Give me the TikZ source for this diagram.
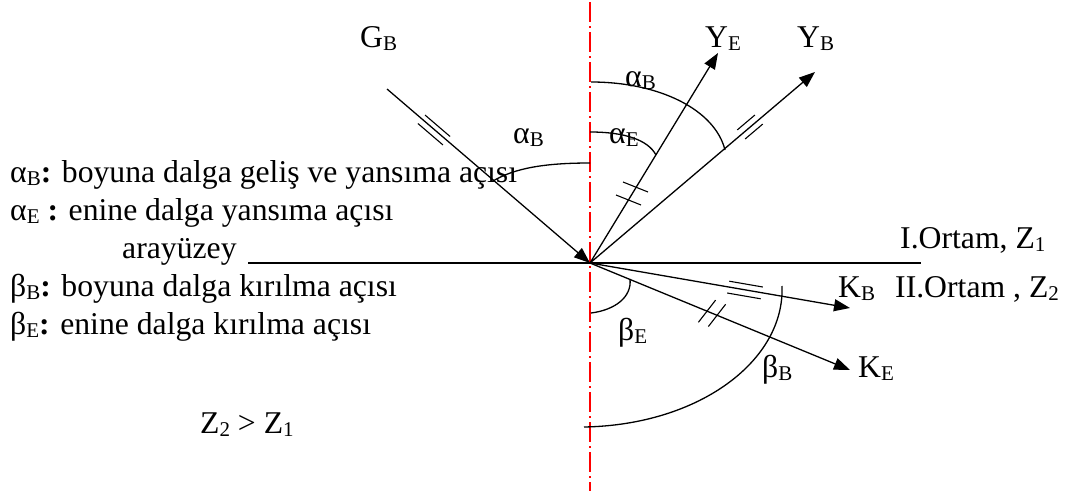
\documentclass[tikz,border=0pt]{standalone}
\usepackage{fontspec}
\setmainfont{Liberation Serif}
\usetikzlibrary{arrows.meta}
\newcommand\lowidx[1]{\raisebox{-0.12em}{\fontsize{21}{21}\selectfont #1}}
\newcommand\bcolon{\textbf{:}}
\tikzset{
 ray/.style={line width=1.3pt},
 arr/.style={ray,-{Triangle[length=16pt,width=12pt]}},
 arcl/.style={line width=1.3pt},
 tickm/.style={line width=1.1pt},
 lbl/.style={anchor=base west,inner sep=0pt,font=\fontsize{31.7}{38}\selectfont},
 axisl/.style={red, line width=1.2pt, dash pattern=on 20pt off 4pt on 2pt off 4pt}
}
\begin{document}
\begin{tikzpicture}[x=1pt,y=-1pt]
\useasboundingbox (0,0) rectangle (1069,493);
\coordinate (O) at (590,263);
\coordinate (ntop) at (590,2);
\coordinate (nbot) at (590,491);
\coordinate (gb) at (387,89);
\coordinate (ye) at (718,53);
\coordinate (yb) at (815,72);
\coordinate (kb) at (850,308);
\coordinate (ke) at (850,370);
\coordinate (ifl) at (248,263);
\coordinate (ifr) at (921,263);
% normal line and interface
\draw[axisl] (ntop) -- (nbot);
\draw[ray] (ifl) -- (ifr);
% rays
\draw[arr] (gb) -- (O);
\draw[arr] (O) -- (ye);
\draw[arr] (O) -- (yb);
\draw[arr] (O) -- (kb);
\draw[arr] (O) -- (ke);
% angle arcs
\draw[arcl] (590,163) .. controls (545,163) and (515,168) .. (493,181);
\draw[arcl] (591,82) .. controls (660,82) and (715,110) .. (725,150);
\draw[arcl] (590,132) .. controls (625,132) and (648,140) .. (656,155);
\draw[arcl] (591,313) .. controls (615,310) and (632,297) .. (630,279);
\draw[arcl] (584,427) .. controls (700,425) and (785,360) .. (782,286);
% tick marks
\draw[tickm] (425.1,115.1) -- (450.1,136.5);
\draw[tickm] (417.9,123.5) -- (442.9,144.9);
\draw[tickm] (745.1,139.0) -- (762.7,124.1);
\draw[tickm] (737.3,129.9) -- (754.9,115.0);
\draw[tickm] (727.2,293.0) -- (760.7,298.8);
\draw[tickm] (729.3,281.2) -- (762.8,287.0);
\draw[tickm] (616,195) -- (641,205);
\draw[tickm] (623,182) -- (648,192);
\draw[tickm] (698.4,322.3) -- (715.6,300.1);
\draw[tickm] (708.4,326.5) -- (725.6,304.3);
% labels
\node[lbl] (gbl) at (360,47) {G\lowidx{B}};
\node[lbl] (yel) at (705,47) {Y\lowidx{E}};
\node[lbl] (ybl) at (797,47) {Y\lowidx{B}};
\node[lbl] (aB2) at (625,86) {α\lowidx{B}};
\node[lbl] (aB1) at (513,143) {α\lowidx{B}};
\node[lbl] (aE) at (609,143) {α\lowidx{E}};
\node[lbl] (bE) at (618,340) {β\lowidx{E}};
\node[lbl] (bB) at (762,377) {β\lowidx{B}};
\node[lbl] (kbl) at (838,297) {K\lowidx{B}};
\node[lbl] (kel) at (858,377) {K\lowidx{E}};
\node[lbl] (o1) at (900,248) {I.Ortam, Z\lowidx{1}};
\node[lbl] (o2) at (895,297) {II.Ortam , Z\lowidx{2}};
\node[lbl] (zz) at (200,433) {Z\lowidx{2} > Z\lowidx{1}};
% legend
\node[lbl] (l1) at (10,182) {α\lowidx{B}\bcolon{} boyuna dalga geliş ve yansıma açısı};
\node[lbl] (l2) at (10,220) {α\lowidx{E} \bcolon{} enine dalga yansıma açısı};
\node[lbl] (l3) at (122,258) {arayüzey};
\node[lbl] (l4) at (10,296) {β\lowidx{B}\bcolon{} boyuna dalga kırılma açısı};
\node[lbl] (l5) at (10,334) {β\lowidx{E}\bcolon{} enine dalga kırılma açısı};
\end{tikzpicture}
\end{document}
